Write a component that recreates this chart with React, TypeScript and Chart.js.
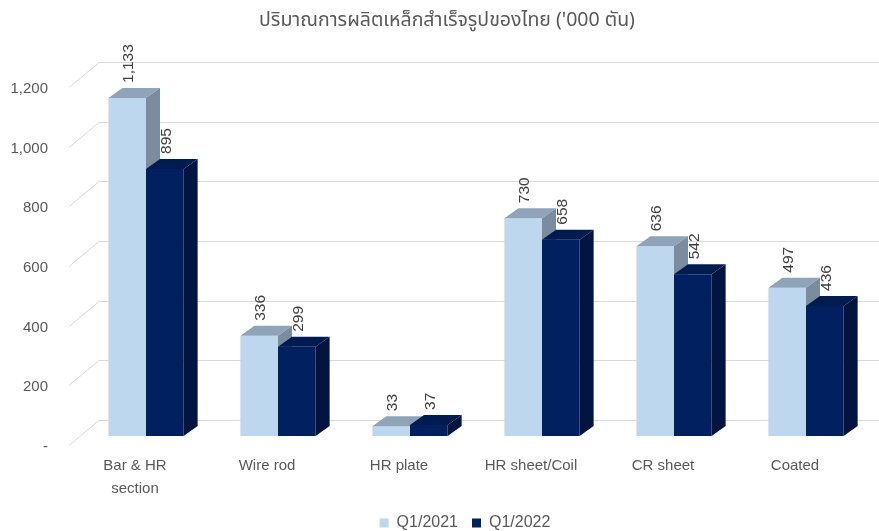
import React, { useEffect, useRef } from "react";
import { Chart, registerables } from "chart.js";

Chart.register(...registerables);

// ---- data ----
const chartTitle = "ปริมาณการผลิตเหล็กสำเร็จรูปของไทย ('000 ตัน)";
const categories: (string | string[])[] = [["Bar & HR", "section"], "Wire rod", "HR plate", "HR sheet/Coil", "CR sheet", "Coated"];
const seriesNames = ["Q1/2021", "Q1/2022"];
const q1_2021 = [1133, 336, 33, 730, 636, 497];
const q1_2022 = [895, 299, 37, 658, 542, 436];
const yTickLabels = ["-", "200", "400", "600", "800", "1,000", "1,200"];

// ---- style ----
const FONT = '"Liberation Sans", Arial, sans-serif';
const TITLE_FONT = '"Noto Sans", "Noto Sans Thai", "DejaVu Sans", sans-serif';
const TEXT = "#595959";
const FRONT = { dx: 11, dy: -9 };
const DEPTH = { dx: 14, dy: -10 };
const WALL = { dx: 30, dy: -25 };
const faces = [
  { front: "#BDD7EE", top: "#8FA4B8", side: "#7B8C9F" },
  { front: "#002060", top: "#001B50", side: "#00143F" },
];

function poly(ctx: CanvasRenderingContext2D, pts: number[][], fill: string) {
  ctx.beginPath();
  ctx.moveTo(pts[0][0], pts[0][1]);
  for (let i = 1; i < pts.length; i++) ctx.lineTo(pts[i][0], pts[i][1]);
  ctx.closePath();
  ctx.fillStyle = fill;
  ctx.fill();
}

const titlePlugin = {
  id: "centeredTitle",
  afterDraw(chart: any) {
    const { ctx } = chart;
    ctx.save();
    ctx.fillStyle = TEXT;
    ctx.font = "19.5px " + TITLE_FONT;
    ctx.textAlign = "center";
    ctx.textBaseline = "middle";
    ctx.fillText(chartTitle, 447, 20);
    ctx.restore();
  },
};

const bar3d = {
  id: "bar3d",
  beforeDatasetsDraw(chart: any) {
    const { ctx, chartArea, scales } = chart;
    const ys = scales.y;
    ctx.save();
    // back wall grid + floor diagonals
    ctx.strokeStyle = "#D9D9D9";
    ctx.lineWidth = 1;
    for (const t of ys.ticks) {
      const yf = Math.round(ys.getPixelForValue(t.value)) + 0.5;
      const yb = yf + WALL.dy;
      ctx.beginPath();
      ctx.moveTo(chartArea.left, yf);
      ctx.lineTo(chartArea.left + WALL.dx, yb);
      ctx.lineTo(chart.width, yb);
      ctx.stroke();
    }
    const metas = chart.getSortedVisibleDatasetMetas();
    const n = metas[0].data.length;
    const geo: any[] = [];
    for (let i = 0; i < n; i++) {
      for (const meta of metas) {
        const el = meta.data[i];
        const p = el.getProps(["x", "y", "base", "width"], true);
        const l = p.x - p.width / 2 + FRONT.dx;
        const r = p.x + p.width / 2 + FRONT.dx;
        const t = p.y + FRONT.dy;
        const b = p.base + FRONT.dy;
        const c = faces[meta.index];
        ctx.fillStyle = c.front;
        ctx.fillRect(l, t, r - l, b - t);
        poly(ctx, [[l, t], [r, t], [r + DEPTH.dx, t + DEPTH.dy], [l + DEPTH.dx, t + DEPTH.dy]], c.top);
        poly(ctx, [[r, t], [r + DEPTH.dx, t + DEPTH.dy], [r + DEPTH.dx, b + DEPTH.dy], [r, b]], c.side);
        geo.push({ cx: (l + r) / 2 + 2, t, v: chart.data.datasets[meta.index].data[i] });
      }
    }
    ctx.fillStyle = "#404040";
    ctx.font = "15.5px " + FONT;
    ctx.textAlign = "left";
    ctx.textBaseline = "middle";
    for (const g of geo) {
      ctx.save();
      ctx.translate(g.cx, g.t + DEPTH.dy - 5);
      ctx.rotate(-Math.PI / 2);
      ctx.fillText(Number(g.v).toLocaleString("en-US"), 0, 0);
      ctx.restore();
    }
    ctx.restore();
    return false;
  },
};

export default function App() {
  const ref = useRef<HTMLCanvasElement>(null);
  useEffect(() => {
    document.body.style.margin = "0";
    const chart = new Chart(ref.current as HTMLCanvasElement, {
      type: "bar",
      data: {
        labels: categories as any,
        datasets: [
          { label: seriesNames[0], data: q1_2021, backgroundColor: faces[0].front, categoryPercentage: 0.57, barPercentage: 1 },
          { label: seriesNames[1], data: q1_2022, backgroundColor: faces[1].front, categoryPercentage: 0.57, barPercentage: 1 },
        ],
      },
      options: {
        animation: false,
        responsive: false,
        layout: { padding: { left: 0, right: 0, top: 87, bottom: -10 } },
        plugins: {
          title: { display: false },
          legend: {
            position: "bottom",
            fullSize: false,
            labels: { boxWidth: 9, boxHeight: 9, padding: 14, color: TEXT, font: { family: FONT, size: 16 } },
          },
          tooltip: { enabled: false },
        },
        scales: {
          x: {
            grid: { display: false, drawTicks: false },
            border: { display: false },
            ticks: { color: TEXT, font: { family: FONT, size: 15, lineHeight: 1.5 }, padding: 10, maxRotation: 0, autoSkip: false },
            afterFit: (s: any) => { s.height = 541 - 40 - 445; },
          },
          y: {
            min: 0,
            max: 1200,
            grid: { display: false, drawTicks: false },
            border: { display: false },
            ticks: {
              stepSize: 200,
              color: TEXT,
              font: { family: FONT, size: 15 },
              padding: 21,
              labelOffset: 2,
              callback: (_v: any, i: number) => yTickLabels[i],
            },
            afterFit: (s: any) => { s.width = 69; },
          },
          y2: {
            position: "right",
            grid: { display: false, drawTicks: false },
            border: { display: false },
            ticks: { display: false },
            afterFit: (s: any) => { s.width = 18; },
          },
        },
      } as any,
      plugins: [bar3d, titlePlugin],
    });
    return () => chart.destroy();
  }, []);
  return (
    <div style={{ width: 879, height: 531 }}>
      <canvas ref={ref} width={879} height={531} style={{ display: "block" }} />
    </div>
  );
}
